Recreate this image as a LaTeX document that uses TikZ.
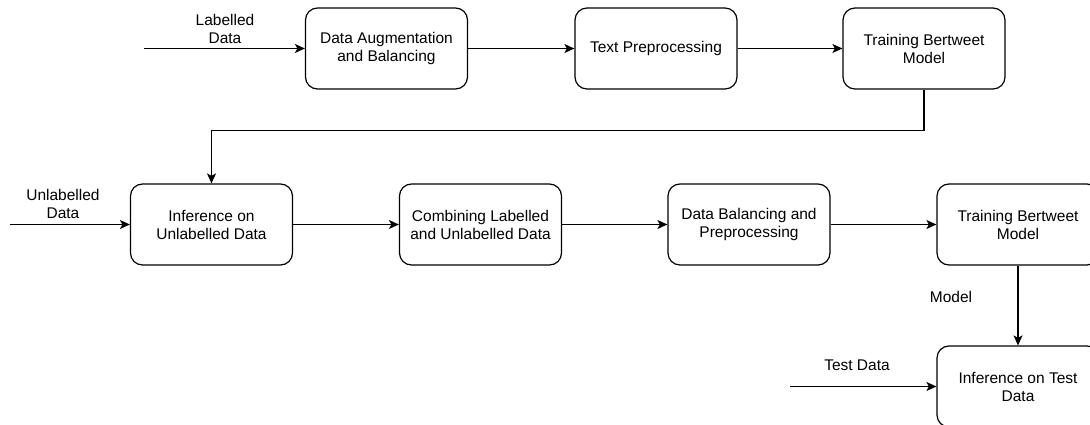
\documentclass[tikz,border=0pt]{standalone}
\usepackage{fontspec}
\setmainfont{Liberation Sans}
\usetikzlibrary{arrows.meta}
\begin{document}
\begin{tikzpicture}[x=1pt,y=-1pt,
  box/.style={draw,line width=1.2pt,rounded corners=12pt,minimum width=162pt,minimum height=81pt,align=center,font=\fontsize{15.5}{18}\selectfont,inner sep=0pt},
  lbl/.style={align=center,font=\fontsize{15.5}{18}\selectfont,inner sep=0pt},
  conn/.style={line width=1.2pt,-{Stealth[length=10pt,width=9pt,inset=2.5pt]}}]
\useasboundingbox (0,0) rectangle (1090,425);
\clip (0,0) rectangle (1090,425);
\node[box] (b1) at (386.5,48.5) {Data Augmentation\\and Balancing};
\node[box] (b2) at (656,48.5) {Text Preprocessing};
\node[box] (b3) at (924,48.5) {Training Bertweet\\Model};
\node[box] (b4) at (211.5,224.5) {Inference on\\Unlabelled Data};
\node[box] (b5) at (480.5,224.5) {Combining Labelled\\and Unlabelled Data};
\node[box] (b6) at (749,224.5) {Data Balancing and\\Preprocessing};
\node[box] (b7) at (1018,224.5) {Training Bertweet\\Model};
\node[box] (b8) at (1018,386.5) {Inference on Test\\Data};
\coordinate (inL) at (144,48.5);
\coordinate (inU) at (10,224.5);
\coordinate (inT) at (790,386.5);
\node[lbl] (lL) at (225,29) {Labelled\\Data};
\node[lbl] (lU) at (63,204) {Unlabelled\\Data};
\node[lbl] (lT) at (857,365) {Test Data};
\node[lbl] (lM) at (951,297) {Model};
\draw[conn] (inL) -- (b1);
\draw[conn] (b1) -- (b2);
\draw[conn] (b2) -- (b3);
\draw[conn] (b3.south) -- ++(0,41) -| (b4.north);
\draw[conn] (inU) -- (b4);
\draw[conn] (b4) -- (b5);
\draw[conn] (b5) -- (b6);
\draw[conn] (b6) -- (b7);
\draw[conn] (b7) -- (b8);
\draw[conn] (inT) -- (b8);
\end{tikzpicture}
\end{document}
